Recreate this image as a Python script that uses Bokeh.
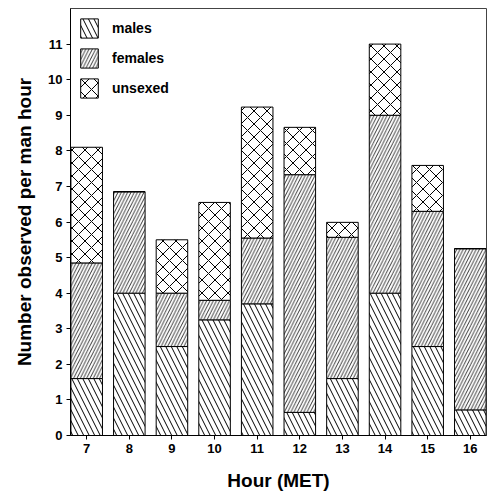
from bokeh.plotting import figure
from bokeh.models import ColumnDataSource, Legend, LegendItem, FixedTicker
from bokeh.embed import file_html
from bokeh.resources import INLINE

hours = [7, 8, 9, 10, 11, 12, 13, 14, 15, 16]
males = [1.6, 4.0, 2.5, 3.25, 3.7, 0.65, 1.6, 4.0, 2.5, 0.72]
females = [3.25, 2.85, 1.5, 0.55, 1.85, 6.68, 3.97, 5.0, 3.8, 4.53]
unsexed = [3.25, 0.0, 1.5, 2.75, 3.68, 1.33, 0.42, 2.0, 1.29, 0.0]
y_ticks = list(range(0, 12))

FONT = "Liberation Sans"

m_top = [m for m in males]
f_top = [m + f for m, f in zip(males, females)]
u_top = [m + f + u for m, f, u in zip(males, females, unsexed)]

src = ColumnDataSource(dict(x=hours, m0=[0] * len(hours), m1=m_top, f1=f_top, u1=u_top))

p = figure(width=488, height=493, x_range=(6.62, 16.38), y_range=(0, 12),
           output_backend="svg", toolbar_location=None,
           min_border_left=70, min_border_right=2, min_border_top=8, min_border_bottom=58)

W = 0.74
common = dict(fill_color="white", line_color="black", line_width=1, hatch_color="black")
r_m = p.vbar(x="x", bottom="m0", top="m1", width=W, source=src, hatch_pattern="\\",
             hatch_scale=11, hatch_weight=1, **common)
r_f = p.vbar(x="x", bottom="m1", top="f1", width=W, source=src, hatch_pattern="/",
             hatch_scale=6.5, hatch_weight=0.8, **common)
r_u = p.vbar(x="x", bottom="f1", top="u1", width=W, source=src, hatch_pattern="x",
             hatch_scale=13, hatch_weight=1, **common)

legend = Legend(items=[LegendItem(label="males", renderers=[r_m]),
                       LegendItem(label="females", renderers=[r_f]),
                       LegendItem(label="unsexed", renderers=[r_u])],
                location="top_left", margin=8, padding=10, spacing=6,
                glyph_width=22, glyph_height=24, label_standoff=12,
                border_line_color=None, background_fill_alpha=0,
                label_text_font=FONT, label_text_font_style="bold", label_text_font_size="14px",
                label_text_color="black")
p.add_layout(legend)

p.xgrid.visible = False
p.ygrid.visible = False
p.outline_line_color = "#444444"
p.outline_line_width = 1

p.xaxis.ticker = FixedTicker(ticks=hours)
p.yaxis.ticker = FixedTicker(ticks=y_ticks)
for ax in (p.xaxis, p.yaxis):
    ax.minor_tick_line_color = None
    ax.major_tick_in = 0
    ax.major_tick_out = 4
    ax.axis_line_color = "black"
    ax.major_tick_line_color = "black"
    ax.major_label_text_font = FONT
    ax.major_label_text_font_style = "bold"
    ax.major_label_text_font_size = "13px"
    ax.major_label_text_color = "black"
    ax.axis_label_text_font = FONT
    ax.axis_label_text_font_style = "bold"
    ax.axis_label_text_font_size = "19px"
    ax.axis_label_text_color = "black"

p.xaxis.axis_label = "Hour (MET)"
p.yaxis.axis_label = "Number observed per man hour"
p.xaxis.axis_label_standoff = 14
p.yaxis.axis_label_standoff = 10
p.xaxis.major_label_standoff = 4
p.yaxis.major_label_standoff = 4

open("out.html", "w").write(file_html(p, INLINE))
